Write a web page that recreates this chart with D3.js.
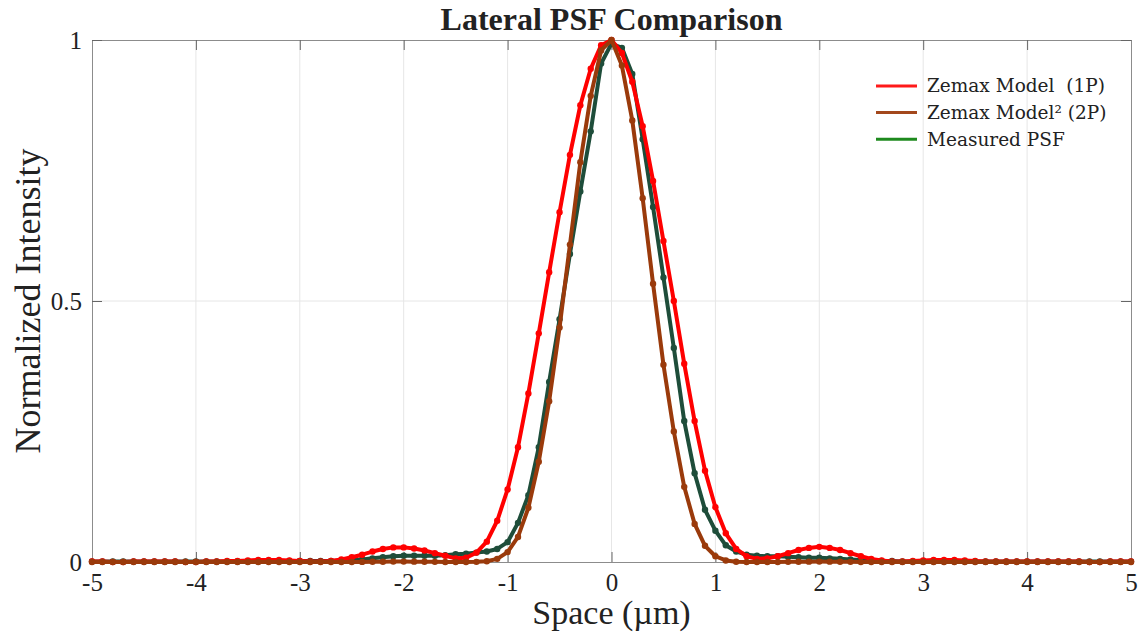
<!DOCTYPE html>
<html>
<head>
<meta charset="utf-8">
<script src="https://cdn.jsdelivr.net/npm/d3@7"></script>
<style>
  body { margin: 0; background: #fff; }
  text { font-family: "Liberation Serif", "DejaVu Serif", serif; fill: #222; }
  .legend text { font-family: "DejaVu Serif", serif; white-space: pre; }
</style>
</head>
<body>
<div id="chart"></div>
<script>
// sample positions (um)
const xPos = [
  -5.0, -4.9, -4.8, -4.7, -4.6, -4.5, -4.4, -4.3, -4.2, -4.1,
  -4.0, -3.9, -3.8, -3.7, -3.6, -3.5, -3.4, -3.3, -3.2, -3.1,
  -3.0, -2.9, -2.8, -2.7, -2.6, -2.5, -2.4, -2.3, -2.2, -2.1,
  -2.0, -1.9, -1.8, -1.7, -1.6, -1.5, -1.4, -1.3, -1.2, -1.1,
  -1.0, -0.9, -0.8, -0.7, -0.6, -0.5, -0.4, -0.3, -0.2, -0.1,
   0.0,  0.1,  0.2,  0.3,  0.4,  0.5,  0.6,  0.7,  0.8,  0.9,
   1.0,  1.1,  1.2,  1.3,  1.4,  1.5,  1.6,  1.7,  1.8,  1.9,
   2.0,  2.1,  2.2,  2.3,  2.4,  2.5,  2.6,  2.7,  2.8,  2.9,
   3.0,  3.1,  3.2,  3.3,  3.4,  3.5,  3.6,  3.7,  3.8,  3.9,
   4.0,  4.1,  4.2,  4.3,  4.4,  4.5,  4.6,  4.7,  4.8,  4.9,
   5.0
];

// Zemax Model (1P)
const zemax1P = [
  0.001, 0.001, 0.000, 0.000, 0.001, 0.001, 0.001, 0.001, 0.001, 0.000,
  0.000, 0.001, 0.001, 0.002, 0.002, 0.003, 0.004, 0.004, 0.004, 0.003,
  0.002, 0.001, 0.001, 0.002, 0.005, 0.009, 0.014, 0.020, 0.025, 0.028,
  0.028, 0.026, 0.022, 0.017, 0.012, 0.007, 0.008, 0.018, 0.039, 0.079,
  0.139, 0.220, 0.323, 0.438, 0.555, 0.670, 0.780, 0.875, 0.945, 0.990,
  1.000, 0.975, 0.920, 0.835, 0.730, 0.615, 0.500, 0.380, 0.270, 0.175,
  0.105, 0.055, 0.025, 0.011, 0.006, 0.007, 0.011, 0.017, 0.023, 0.027,
  0.029, 0.027, 0.023, 0.017, 0.011, 0.006, 0.003, 0.001, 0.001, 0.002,
  0.003, 0.004, 0.004, 0.004, 0.003, 0.002, 0.001, 0.001, 0.001, 0.001,
  0.001, 0.001, 0.001, 0.001, 0.001, 0.001, 0.000, 0.000, 0.001, 0.001,
  0.001
];

// Zemax Model^2 (2P)
const zemax2P = [
  0.000, 0.000, 0.000, 0.000, 0.000, 0.000, 0.000, 0.000, 0.000, 0.000,
  0.000, 0.000, 0.000, 0.000, 0.000, 0.000, 0.000, 0.000, 0.000, 0.000,
  0.000, 0.000, 0.000, 0.000, 0.000, 0.0001, 0.0002, 0.0004, 0.0006, 0.0008,
  0.0008, 0.0007, 0.0005, 0.0003, 0.0001, 0.000, 0.0001, 0.0003, 0.0015, 0.006,
  0.019, 0.048, 0.104, 0.192, 0.308, 0.449, 0.608, 0.766, 0.893, 0.980,
  1.000, 0.951, 0.846, 0.697, 0.533, 0.378, 0.250, 0.144, 0.073, 0.031,
  0.011, 0.003, 0.0006, 0.0001, 0.000, 0.000, 0.0001, 0.0003, 0.0005, 0.0007,
  0.0008, 0.0007, 0.0005, 0.0003, 0.0001, 0.000, 0.000, 0.000, 0.000, 0.000,
  0.000, 0.000, 0.000, 0.000, 0.000, 0.000, 0.000, 0.000, 0.000, 0.000,
  0.000, 0.000, 0.000, 0.000, 0.000, 0.000, 0.000, 0.000, 0.000, 0.000,
  0.000
];

// Measured PSF
const measured = [
  0.001, 0.001, 0.001, 0.001, 0.001, 0.001, 0.001, 0.001, 0.001, 0.001,
  0.001, 0.001, 0.001, 0.001, 0.001, 0.001, 0.001, 0.002, 0.002, 0.002,
  0.002, 0.002, 0.002, 0.002, 0.003, 0.004, 0.005, 0.007, 0.009, 0.011,
  0.012, 0.012, 0.012, 0.012, 0.013, 0.015, 0.016, 0.018, 0.020, 0.025,
  0.038, 0.075, 0.128, 0.220, 0.345, 0.465, 0.590, 0.710, 0.825, 0.955,
  0.993, 0.985, 0.935, 0.810, 0.680, 0.545, 0.410, 0.270, 0.170, 0.100,
  0.060, 0.032, 0.020, 0.014, 0.012, 0.011, 0.011, 0.010, 0.009, 0.008,
  0.008, 0.007, 0.006, 0.005, 0.004, 0.003, 0.002, 0.002, 0.001, 0.001,
  0.001, 0.001, 0.001, 0.001, 0.001, 0.001, 0.001, 0.001, 0.001, 0.001,
  0.001, 0.001, 0.001, 0.001, 0.001, 0.001, 0.001, 0.001, 0.001, 0.001,
  0.001
];

const xTicks = [-5, -4, -3, -2, -1, 0, 1, 2, 3, 4, 5];
const yTicks = [0, 0.5, 1];

const legendNames = ["Zemax Model  (1P)", "Zemax Model\u00b2 (2P)", "Measured PSF"];

const width = 1144, height = 636;
const margin = {top: 40, right: 13, bottom: 74, left: 92};
const plotW = width - margin.left - margin.right;
const plotH = height - margin.top - margin.bottom;

const svg = d3.select("#chart").append("svg")
    .attr("width", width)
    .attr("height", height);

svg.append("rect").attr("width", width).attr("height", height).attr("fill", "#fff");

const g = svg.append("g")
    .attr("transform", `translate(${margin.left},${margin.top})`);

const x = d3.scaleLinear().domain([-5, 5]).range([0, plotW]);
const y = d3.scaleLinear().domain([0, 1]).range([plotH, 0]);

// grid
g.append("g").selectAll("line")
    .data(xTicks.slice(1, -1))
    .enter().append("line")
    .attr("x1", d => x(d)).attr("x2", d => x(d))
    .attr("y1", 0).attr("y2", plotH)
    .attr("stroke", "#e6e6e6");
g.append("g").selectAll("line")
    .data([0.5])
    .enter().append("line")
    .attr("x1", 0).attr("x2", plotW)
    .attr("y1", d => y(d)).attr("y2", d => y(d))
    .attr("stroke", "#e6e6e6");

// axes (ticks inside)
const fmt = d => String(d);
const xAxis = g.append("g")
    .attr("transform", `translate(0,${plotH})`)
    .call(d3.axisBottom(x).tickValues(xTicks).tickFormat(fmt).tickSizeInner(-10).tickSizeOuter(0).tickPadding(11));
const xAxisTop = g.append("g")
    .call(d3.axisTop(x).tickValues(xTicks).tickFormat("").tickSizeInner(-10).tickSizeOuter(0));
const yAxis = g.append("g")
    .call(d3.axisLeft(y).tickValues(yTicks).tickFormat(fmt).tickSizeInner(-10).tickSizeOuter(0).tickPadding(10));
const yAxisRight = g.append("g")
    .attr("transform", `translate(${plotW},0)`)
    .call(d3.axisRight(y).tickValues(yTicks).tickFormat("").tickSizeInner(-10).tickSizeOuter(0));

[xAxis, xAxisTop, yAxis, yAxisRight].forEach(a => {
    a.select(".domain").attr("stroke", "#8c8c8c");
    a.selectAll(".tick line").attr("stroke", "#666");
    a.selectAll("text").style("font-family", "Liberation Serif, serif")
        .style("font-size", "25px").attr("fill", "#262626");
});
yAxis.selectAll("text").attr("dy", "0.35em");

// series
const series = [
    {name: legendNames[2], values: measured, color: "#1e4d3a", legendColor: "#1e8a1e"},
    {name: legendNames[0], values: zemax1P, color: "#ff0000", legendColor: "#ff1a1a"},
    {name: legendNames[1], values: zemax2P, color: "#9a3a0b", legendColor: "#a3481c"}
];

const line = d3.line()
    .x((d, i) => x(xPos[i]))
    .y(d => y(d));

series.forEach(s => {
    g.append("path")
        .datum(s.values)
        .attr("fill", "none")
        .attr("stroke", s.color)
        .attr("stroke-width", 4)
        .attr("stroke-linejoin", "round")
        .attr("d", line);
    g.append("g").selectAll("circle")
        .data(s.values)
        .enter().append("circle")
        .attr("cx", (d, i) => x(xPos[i]))
        .attr("cy", d => y(d))
        .attr("r", 3.2)
        .attr("fill", s.color);
});

// title and labels
svg.append("text")
    .attr("x", margin.left + plotW / 2)
    .attr("y", 30)
    .attr("text-anchor", "middle")
    .style("font-size", "32px")
    .style("font-weight", "bold")
    .attr("fill", "#111")
    .text("Lateral PSF Comparison");

svg.append("text")
    .attr("x", margin.left + plotW / 2)
    .attr("y", 624)
    .attr("text-anchor", "middle")
    .style("font-size", "34px")
    .attr("fill", "#262626")
    .text("Space (\u00b5m)");

svg.append("text")
    .attr("transform", `translate(40,${margin.top + plotH / 2}) rotate(-90)`)
    .attr("text-anchor", "middle")
    .style("font-size", "36px")
    .attr("fill", "#262626")
    .text("Normalized Intensity");

// legend
const legendOrder = [series[1], series[2], series[0]];
const legend = svg.append("g").attr("class", "legend")
    .attr("transform", "translate(876,86)");
legendOrder.forEach((s, i) => {
    const row = legend.append("g").attr("transform", `translate(0,${i * 26.6})`);
    row.append("line")
        .attr("x1", 0).attr("x2", 41)
        .attr("stroke", s.legendColor)
        .attr("stroke-width", 3);
    row.append("text")
        .attr("x", 51)
        .attr("dy", "0.35em")
        .style("font-size", "18.5px")
        .attr("fill", "#111")
        .text(s.name);
});
</script>
</body>
</html>
